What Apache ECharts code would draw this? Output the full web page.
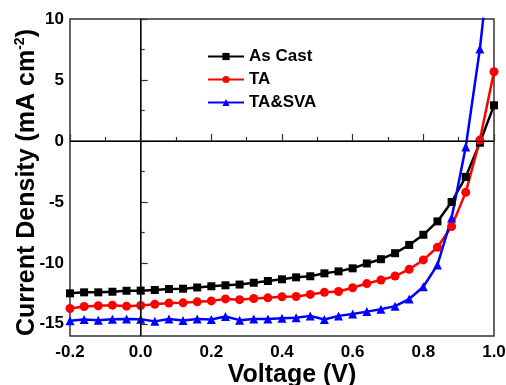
<!DOCTYPE html>
<html>
<head>
<meta charset="utf-8">
<script src="https://cdn.jsdelivr.net/npm/echarts@6/dist/echarts.min.js"></script>
<style>
  html, body { margin: 0; padding: 0; background: #fff; }
  #main { width: 506px; height: 385px; }
</style>
</head>
<body>
<div id="main"></div>
<script>
// voltage steps, 0.04 V apart
const voltage = [-0.2, -0.16, -0.12, -0.08, -0.04, 0, 0.04, 0.08, 0.12, 0.16,
  0.2, 0.24, 0.28, 0.32, 0.36, 0.4, 0.44, 0.48, 0.52, 0.56,
  0.6, 0.64, 0.68, 0.72, 0.76, 0.8, 0.84, 0.88, 0.92, 0.96, 1.0];

const asCast = [-12.50, -12.42, -12.42, -12.37, -12.29, -12.28, -12.23, -12.15, -12.12, -12.02,
  -11.92, -11.84, -11.78, -11.63, -11.49, -11.35, -11.19, -11.10, -10.86, -10.70,
  -10.45, -10.05, -9.70, -9.21, -8.53, -7.70, -6.60, -5.01, -2.95, -0.15, 2.92];

const ta = [-13.74, -13.58, -13.52, -13.47, -13.55, -13.50, -13.40, -13.30, -13.28, -13.20,
  -13.12, -12.96, -13.02, -12.92, -12.87, -12.78, -12.76, -12.59, -12.42, -12.35,
  -12.04, -11.70, -11.41, -11.08, -10.53, -9.76, -8.72, -7.02, -4.22, 0.07, 5.67];

const taSva = [-14.75, -14.65, -14.70, -14.62, -14.60, -14.62, -14.80, -14.60, -14.72, -14.60,
  -14.65, -14.40, -14.70, -14.60, -14.60, -14.55, -14.50, -14.35, -14.65, -14.35,
  -14.20, -14.00, -13.80, -13.55, -12.97, -11.96, -10.17, -6.33, -0.50, 7.54, 18];

const xTicks = [-0.2, 0, 0.2, 0.4, 0.6, 0.8, 1.0];
const xMinor = [-0.1, 0.1, 0.3, 0.5, 0.7, 0.9];
const yTicks = [-15, -10, -5, 0, 5, 10];
const yMinor = [-12.5, -7.5, -2.5, 2.5, 7.5];

const font = 'Liberation Sans, Arial, sans-serif';

function pairs(ys) {
  return voltage.map((v, i) => [v, ys[i]]);
}

const chart = echarts.init(document.getElementById('main'));

const labelStyle = {
  fontFamily: font,
  fontWeight: 'bold',
  fontSize: 17,
  color: '#000'
};

const option = {
  animation: false,
  grid: {
    left: 70,
    right: 12,
    top: 19,
    bottom: 49,
    outerBoundsMode: 'none',
    containLabel: false,
    show: true,
    borderColor: '#333',
    borderWidth: 1.5
  },
  legend: {
    orient: 'vertical',
    left: 207,
    top: 48,
    padding: 0,
    itemWidth: 36,
    itemHeight: 9,
    itemGap: 6,
    textStyle: {
      fontFamily: font,
      fontWeight: 'bold',
      fontSize: 17,
      color: '#000'
    },
    data: ['As Cast', 'TA', 'TA&SVA']
  },
  xAxis: [
    {
      type: 'value',
      min: -0.2,
      max: 1.0,
      name: 'Voltage (V)',
      nameLocation: 'middle',
      nameGap: 27,
      nameMoveOverlap: false,
      nameTextStyle: {
        fontFamily: font,
        fontWeight: 'bold',
        fontSize: 25,
        color: '#000',
        padding: [0, 0, 0, 20]
      },
      axisLine: { show: true, lineStyle: { color: '#333', width: 1.5 } },
      axisTick: {
        inside: true,
        length: 7,
        customValues: xTicks,
        lineStyle: { color: '#333', width: 1.2 }
      },
      axisLabel: {
        ...labelStyle,
        margin: 8,
        customValues: xTicks,
        formatter: v => v.toFixed(1)
      },
      splitLine: { show: false }
    },
    {
      type: 'value',
      min: -0.2,
      max: 1.0,
      position: 'bottom',
      axisLine: { show: false },
      axisTick: {
        show: true,
        inside: true,
        length: 4,
        customValues: xMinor,
        lineStyle: { color: '#333', width: 1.2 }
      },
      axisLabel: { show: false, customValues: xMinor },
      splitLine: { show: false }
    }
  ],
  yAxis: [
    {
      type: 'value',
      min: -16,
      max: 10,
      name: '{a|Current Density (mA cm}{b|-2}{a|)}',
      nameLocation: 'middle',
      nameGap: 30,
      nameMoveOverlap: false,
      nameTextStyle: {
        padding: [0, 10, 0, 0],
        rich: {
          a: {
            fontFamily: font,
            fontWeight: 'bold',
            fontSize: 25,
            lineHeight: 27,
            verticalAlign: 'bottom',
            color: '#000'
          },
          b: {
            fontFamily: font,
            fontWeight: 'bold',
            fontSize: 14,
            lineHeight: 14,
            verticalAlign: 'top',
            color: '#000'
          }
        }
      },
      axisLine: { show: true, lineStyle: { color: '#333', width: 1.5 } },
      axisTick: {
        inside: true,
        length: 7,
        customValues: yTicks,
        lineStyle: { color: '#333', width: 1.2 }
      },
      axisLabel: {
        ...labelStyle,
        margin: 6,
        customValues: yTicks
      },
      splitLine: { show: false }
    },
    {
      type: 'value',
      min: -16,
      max: 10,
      position: 'left',
      axisLine: { show: false },
      axisTick: {
        show: true,
        inside: true,
        length: 4,
        customValues: yMinor,
        lineStyle: { color: '#333', width: 1.2 }
      },
      axisLabel: { show: false, customValues: yMinor },
      splitLine: { show: false }
    }
  ],
  series: [
    {
      name: 'As Cast',
      type: 'line',
      data: pairs(asCast),
      symbol: 'rect',
      symbolSize: 8,
      color: '#000',
      lineStyle: { width: 2.5, color: '#000' },
      itemStyle: { color: '#000' },
      markLine: {
        silent: true,
        symbol: 'none',
        label: { show: false },
        lineStyle: { color: '#000', width: 1, type: 'solid' },
        data: [{ xAxis: 0 }, { yAxis: 0 }]
      }
    },
    {
      name: 'TA',
      type: 'line',
      data: pairs(ta),
      symbol: 'circle',
      symbolSize: 9,
      color: '#ff0000',
      lineStyle: { width: 2.5, color: '#ff0000' },
      itemStyle: { color: '#ff0000' }
    },
    {
      name: 'TA&SVA',
      type: 'line',
      data: pairs(taSva),
      symbol: 'triangle',
      symbolSize: 9,
      color: '#0000ff',
      clip: true,
      lineStyle: { width: 2.5, color: '#0000ff' },
      itemStyle: { color: '#0000ff' }
    }
  ]
};

chart.setOption(option);
</script>
</body>
</html>
